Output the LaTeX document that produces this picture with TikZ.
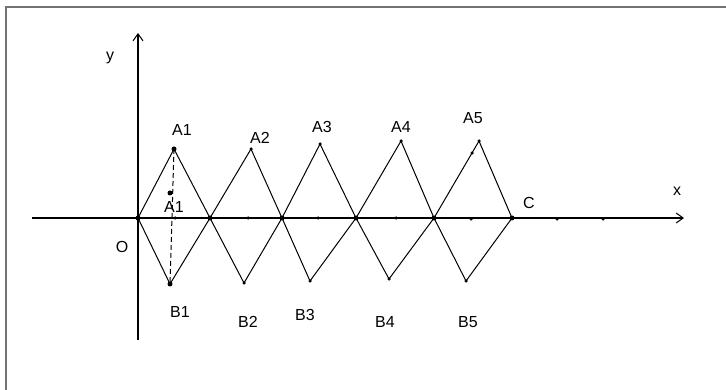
\documentclass[tikz,border=0pt]{standalone}
\usepackage{fontspec}
\setmainfont{Liberation Sans}
\usetikzlibrary{arrows.meta}
\tikzset{
  frame/.style={draw=black!55, line width=1.2pt},
  axis/.style={line width=1.5pt, -{Straight Barb[length=7pt,width=10pt,line width=1pt]}},
  edge/.style={line width=1pt},
  dashedge/.style={line width=1pt, dashed, dash pattern=on 5pt off 3pt},
  lbl/.style={font=\fontsize{16}{18}\selectfont, inner sep=0pt},
  bigdot/.style={fill=black, circle, inner sep=0pt, minimum size=5pt},
  smalldot/.style={fill=black, circle, inner sep=0pt, minimum size=3.5pt}
}
\begin{document}
\begin{tikzpicture}[x=1pt,y=-1pt]
\useasboundingbox (0,0) rectangle (726,390);
\fill[white] (0,0) rectangle (726,390);
% frame
\coordinate (f1) at (6,390);
\coordinate (f2) at (6,7);
\coordinate (f3) at (726,7);
\draw[frame] (f1) -- (f2) -- (f3);
% axes
\coordinate (xs) at (32,218);
\coordinate (xe) at (684,218);
\coordinate (ys) at (138,340);
\coordinate (ye) at (138,33);
\draw[axis] (xs) -- (xe);
\draw[axis] (ys) -- (ye);
% points
\coordinate (O) at (138,218);
\coordinate (A1) at (174,149);
\coordinate (B1) at (170,284);
\coordinate (X1) at (210,218);
\coordinate (A2) at (251,149);
\coordinate (B2) at (244,283);
\coordinate (X2) at (282,218);
\coordinate (A3) at (320,144);
\coordinate (B3) at (310,281);
\coordinate (X3) at (356,218);
\coordinate (A4) at (401,141);
\coordinate (B4) at (389,279);
\coordinate (X4) at (434,218);
\coordinate (A5) at (479,141);
\coordinate (B5) at (466,281);
\coordinate (C) at (512,218);
\coordinate (A1p) at (170,193);
% zigzags
\draw[edge] (O) -- (A1) -- (X1) -- (A2) -- (X2) -- (A3) -- (X3) -- (A4) -- (X4) -- (A5) -- (C);
\draw[edge] (O) -- (B1) -- (X1) -- (B2) -- (X2) -- (B3) -- (X3) -- (B4) -- (X4) -- (B5) -- (C);
\draw[dashedge] (A1) -- (B1);
% dots
\foreach \p in {O,A1,B1,X1,X2,X3,X4,C,A1p}
  \node[bigdot] at (\p) {};
\foreach \p in {A2,B2,A3,B3,A4,B4,A5,B5}
  \node[smalldot] at (\p) {};
\foreach \q in {(175,218),(248,218),(318,218),(396,218),(471,219),(557,219),(603,219),(472,153)}
  \node[smalldot] at \q {};
% labels
\node[lbl] (ly) at (110,58) {y};
\node[lbl] (lx) at (677,191) {x};
\node[lbl] (lO) at (122,247) {O};
\node[lbl] (lA1) at (182,130) {A1};
\node[lbl] (lA2) at (260,138) {A2};
\node[lbl] (lA3) at (322,127) {A3};
\node[lbl] (lA4) at (401,127) {A4};
\node[lbl] (lA5) at (473,118) {A5};
\node[lbl] (lA1p) at (174,207) {A1};
\node[lbl] (lB1) at (180,312) {B1};
\node[lbl] (lB2) at (248,322) {B2};
\node[lbl] (lB3) at (305,315) {B3};
\node[lbl] (lB4) at (385,322) {B4};
\node[lbl] (lB5) at (468,322) {B5};
\node[lbl] (lC) at (529,203) {C};
\end{tikzpicture}
\end{document}
